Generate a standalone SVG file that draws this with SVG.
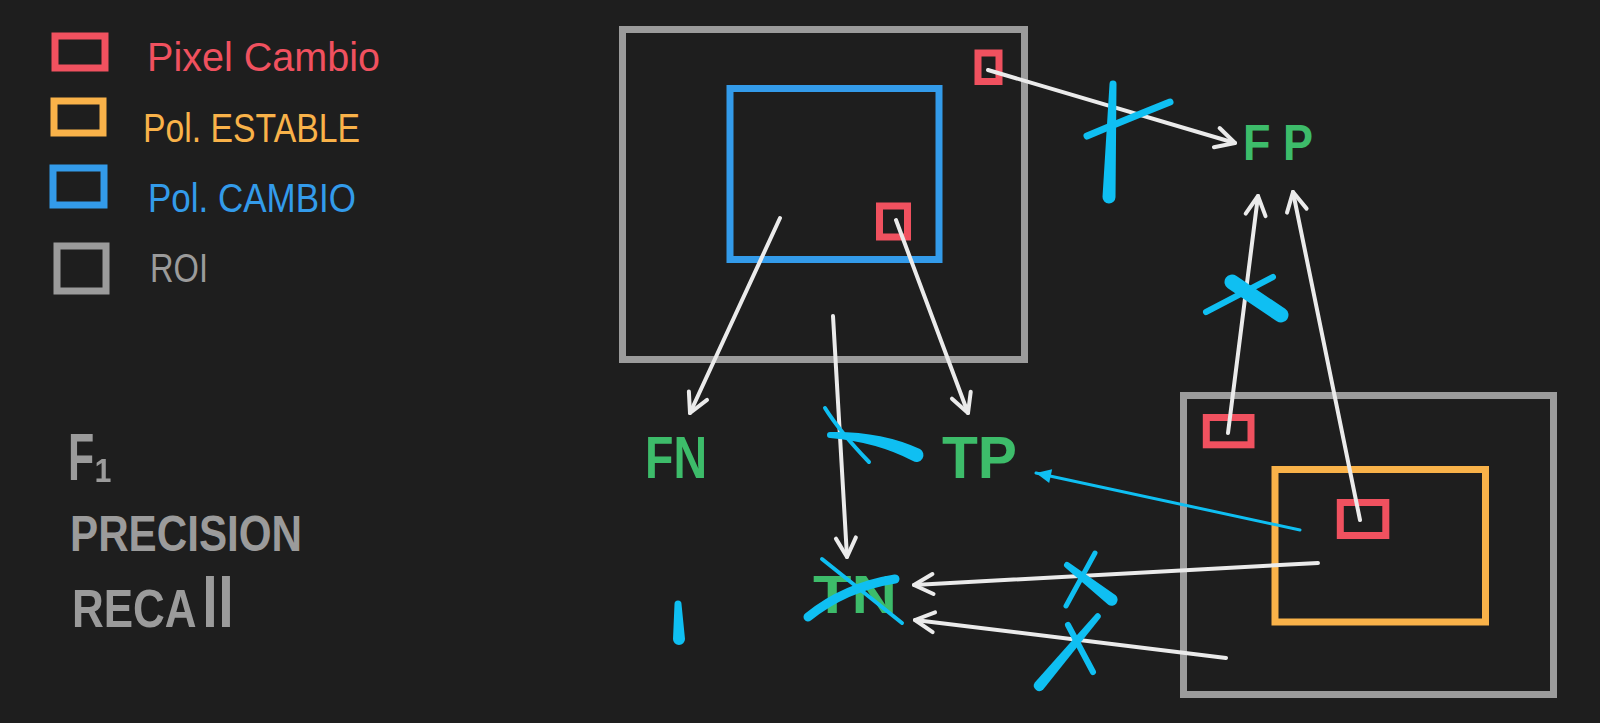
<svg xmlns="http://www.w3.org/2000/svg" width="1600" height="723" viewBox="0 0 1600 723">
<style>
.bg{fill:#1e1e1e}
.box{fill:none;stroke-width:7;stroke-linejoin:miter}
.red{stroke:#f0515f}
.org{stroke:#f9b249}
.blu{stroke:#339bea}
.gry{stroke:#9b9b9b}
.lt{font-family:"Liberation Sans",Arial,sans-serif;font-size:40px}
.hw{font-family:"Liberation Sans","DejaVu Sans",Arial,sans-serif;font-weight:bold;fill:#9b9b9b}
.lbl{font-family:"Liberation Sans",Arial,sans-serif;font-weight:bold;fill:#3dbc6a}
.wl{fill:none;stroke:#ebebeb;stroke-width:4;stroke-linecap:round}
.cl{fill:none;stroke:#0fbff2;stroke-width:3;stroke-linecap:round}
.mk{fill:none;stroke:#0fbff2;stroke-linecap:round;stroke-linejoin:round}
.mf{fill:#0fbff2}
</style>
<defs>
<marker id="wa" markerUnits="userSpaceOnUse" viewBox="-25 -15 30 30" refX="0" refY="0" markerWidth="30" markerHeight="30" orient="auto" overflow="visible">
<path d="M-19,-10 L0,0 L-19,10" fill="none" stroke="#ebebeb" stroke-width="4" stroke-linecap="round" stroke-linejoin="round"/>
</marker>
<marker id="ca" markerUnits="userSpaceOnUse" viewBox="-20 -10 24 20" refX="0" refY="0" markerWidth="24" markerHeight="20" orient="auto" overflow="visible">
<path d="M0,0 L-15,-7 L-15,7 Z" fill="#0fbff2"/>
</marker>
</defs>
<rect class="bg" x="0" y="0" width="1600" height="723"/>

<g id="legend">
<g id="legend-pixel-cambio">
<rect class="box red" x="55" y="36" width="50" height="32" stroke-width="6"/>
<text class="lt" x="147" y="71" fill="#f0515f" textLength="233" lengthAdjust="spacingAndGlyphs">Pixel Cambio</text>
</g>
<g id="legend-pol-estable">
<rect class="box org" x="54" y="101" width="49" height="32" stroke-width="6"/>
<text class="lt" x="143" y="142" fill="#f9b249" font-size="42" textLength="217" lengthAdjust="spacingAndGlyphs">Pol. ESTABLE</text>
</g>
<g id="legend-pol-cambio">
<rect class="box blu" x="53" y="168" width="51" height="37" stroke-width="6"/>
<text class="lt" x="148" y="212" fill="#339bea" font-size="42" textLength="208" lengthAdjust="spacingAndGlyphs">Pol. CAMBIO</text>
</g>
<g id="legend-roi">
<rect class="box gry" x="57" y="246" width="49" height="45" stroke-width="6"/>
<text class="lt" x="150" y="282" fill="#9b9b9b" font-size="38" textLength="58" lengthAdjust="spacingAndGlyphs">ROI</text>
</g>
</g>

<g id="metrics">
<text class="hw" x="68" y="480" font-size="66" textLength="44" lengthAdjust="spacingAndGlyphs">F₁</text>
<text class="hw" x="70" y="551" font-size="50" textLength="232" lengthAdjust="spacingAndGlyphs">PRECISION</text>
<text class="hw" transform="translate(72,627) scale(1,1.2)" x="0" y="0" font-size="44">RECA</text>
<text class="hw" x="202" y="627" font-size="70" textLength="32" lengthAdjust="spacingAndGlyphs">ll</text>
</g>

<g id="roi-cambio">
<rect class="box gry" x="622.5" y="29.5" width="402" height="330"/>
<rect class="box blu" x="730" y="88.5" width="209" height="171"/>
<rect class="box red" x="978" y="53" width="21" height="28.5"/>
<rect class="box red" x="879.5" y="206" width="28" height="31"/>
</g>

<g id="roi-estable">
<rect class="box gry" x="1183.5" y="395.5" width="370" height="299"/>
<rect class="box org" x="1275" y="469.5" width="210.5" height="152.5"/>
<rect class="box red" x="1206.3" y="417.5" width="44.7" height="27.3"/>
<rect class="box red" x="1340.3" y="502.5" width="45.5" height="33"/>
</g>

<g id="label-fp"><text class="lbl" x="1243" y="160" font-size="50" textLength="70" lengthAdjust="spacingAndGlyphs">F P</text></g>
<g id="label-fn"><text class="lbl" x="645" y="478" font-size="60" textLength="62" lengthAdjust="spacingAndGlyphs">FN</text></g>
<g id="label-tp"><text class="lbl" x="942" y="478" font-size="60" textLength="75" lengthAdjust="spacingAndGlyphs">TP</text></g>
<g id="label-tn"><text class="lbl" x="813" y="613" font-size="54" textLength="84" lengthAdjust="spacingAndGlyphs">TN</text></g>

<g id="connectors">
<line class="wl" x1="988" y1="70" x2="1235" y2="143" marker-end="url(#wa)"/>
<line class="wl" x1="780" y1="218" x2="690" y2="413" marker-end="url(#wa)"/>
<line class="wl" x1="833" y1="316" x2="847" y2="557" marker-end="url(#wa)"/>
<line class="wl" x1="896" y1="220" x2="968" y2="413" marker-end="url(#wa)"/>
<line class="wl" x1="1228" y1="433" x2="1258" y2="196" marker-end="url(#wa)"/>
<line class="wl" x1="1360" y1="520" x2="1293" y2="192" marker-end="url(#wa)"/>
<line class="wl" x1="1318" y1="563" x2="914" y2="585" marker-end="url(#wa)"/>
<line class="wl" x1="1226" y1="658" x2="915" y2="620" marker-end="url(#wa)"/>
<line class="cl" x1="1300" y1="530" x2="1036" y2="473" marker-end="url(#ca)"/>
</g>

<g id="marks">
<path class="mf" d="M1116.5,84.1 L1115.5,197.2 A6.5,6.5 0 0 1 1102.5,196.8 L1109.5,83.9 A3.5,3.5 0 0 1 1116.5,84.1 Z"/>
<path class="mk" d="M1087,136 Q1125,120 1170,102" stroke-width="7"/>
<path class="mk" d="M1206,312 L1273,277" stroke-width="6"/>
<path class="mk" d="M1232,282 L1281,315" stroke-width="15"/>
<path class="mf" d="M830,432 Q881,431 920,449 A6.5,6.5 0 0 1 913,461 Q877,442 830,438 A3,3 0 0 1 830,432 Z"/>
<path class="mk" d="M825,408 Q840,432 869,462" stroke-width="4"/>
<path class="mf" d="M681.5,604 L685,639 A6,6 0 0 1 673,639 L674.5,604 A3.5,3.5 0 0 1 681.5,604 Z"/>
<path class="mk" d="M808,617 Q845,587 895,579" stroke-width="9"/>
<path class="mk" d="M822,559 L902,623" stroke-width="4"/>
<path class="mf" d="M1068.8,562.6 L1115.7,595.3 A6,6 0 0 1 1108.3,604.7 L1065.2,567.4 A3,3 0 0 1 1068.8,562.6 Z"/>
<path class="mk" d="M1095,553 L1066,606" stroke-width="5"/>
<path class="mf" d="M1034.8,682.5 L1095.7,614.1 A3,3 0 0 1 1100.3,617.9 L1043.2,689.5 A5.5,5.5 0 0 1 1034.8,682.5 Z"/>
<path class="mk" d="M1068,625 L1093,672" stroke-width="6"/>
</g>
</svg>
